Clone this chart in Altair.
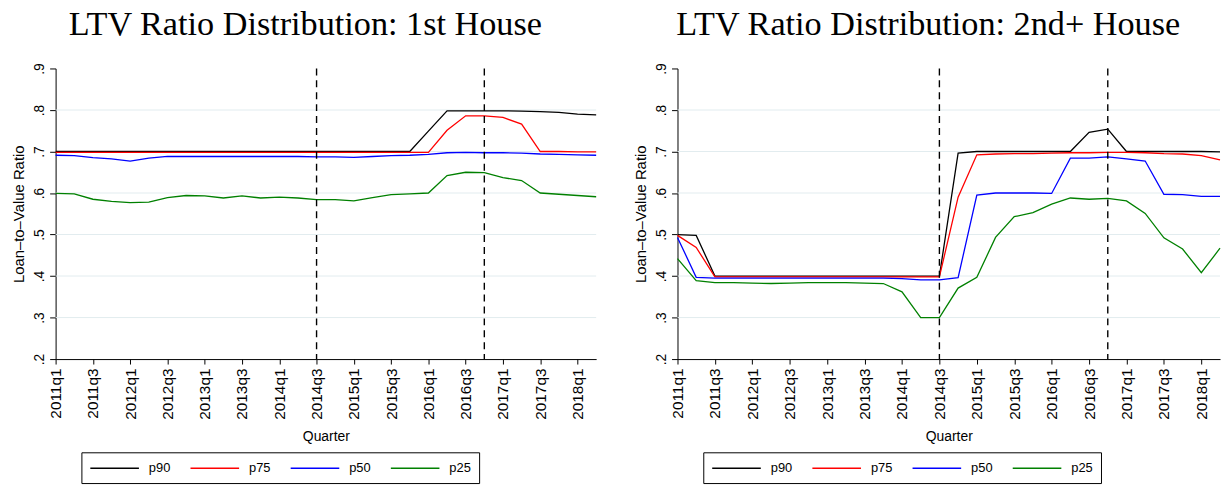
import altair as alt
import pandas as pd

quarters = [
    "2011q1", "2011q2", "2011q3", "2011q4", "2012q1", "2012q2", "2012q3", "2012q4",
    "2013q1", "2013q2", "2013q3", "2013q4", "2014q1", "2014q2", "2014q3", "2014q4",
    "2015q1", "2015q2", "2015q3", "2015q4", "2016q1", "2016q2", "2016q3", "2016q4",
    "2017q1", "2017q2", "2017q3", "2017q4", "2018q1", "2018q2",
]
x_tick_quarters = [
    "2011q1", "2011q3", "2012q1", "2012q3", "2013q1", "2013q3", "2014q1", "2014q3",
    "2015q1", "2015q3", "2016q1", "2016q3", "2017q1", "2017q3", "2018q1",
]
event_quarters = ["2014q3", "2016q4"]

# 1st House
p90_first = [0.700, 0.700, 0.700, 0.700, 0.700, 0.700, 0.700, 0.700, 0.700, 0.700,
             0.700, 0.700, 0.700, 0.700, 0.700, 0.700, 0.700, 0.700, 0.700, 0.700,
             0.749, 0.798, 0.798, 0.798, 0.798, 0.797, 0.796, 0.794, 0.790, 0.788]
p75_first = [0.698, 0.698, 0.698, 0.698, 0.698, 0.698, 0.698, 0.698, 0.698, 0.698,
             0.698, 0.698, 0.698, 0.698, 0.698, 0.698, 0.698, 0.698, 0.698, 0.698,
             0.698, 0.751, 0.786, 0.786, 0.782, 0.766, 0.700, 0.700, 0.699, 0.699]
p50_first = [0.691, 0.690, 0.685, 0.682, 0.677, 0.684, 0.688, 0.688, 0.688, 0.688,
             0.688, 0.688, 0.688, 0.688, 0.687, 0.687, 0.686, 0.688, 0.690, 0.691,
             0.693, 0.697, 0.698, 0.697, 0.697, 0.696, 0.694, 0.693, 0.692, 0.691]
p25_first = [0.599, 0.598, 0.585, 0.580, 0.577, 0.578, 0.589, 0.594, 0.593, 0.588,
             0.593, 0.588, 0.590, 0.588, 0.584, 0.584, 0.581, 0.589, 0.596, 0.598,
             0.600, 0.642, 0.650, 0.649, 0.637, 0.630, 0.600, 0.597, 0.594, 0.591]

# 2nd+ House
p90_second = [0.500, 0.498, 0.400, 0.400, 0.400, 0.400, 0.400, 0.400, 0.400, 0.400,
              0.400, 0.400, 0.400, 0.400, 0.400, 0.696, 0.700, 0.700, 0.700, 0.700,
              0.700, 0.700, 0.746, 0.754, 0.700, 0.700, 0.700, 0.700, 0.700, 0.699]
p75_second = [0.498, 0.469, 0.398, 0.398, 0.398, 0.398, 0.398, 0.398, 0.398, 0.398,
              0.398, 0.398, 0.398, 0.398, 0.398, 0.590, 0.692, 0.694, 0.695, 0.695,
              0.696, 0.697, 0.697, 0.698, 0.698, 0.697, 0.695, 0.694, 0.690, 0.680]
p50_second = [0.493, 0.397, 0.395, 0.395, 0.395, 0.395, 0.395, 0.395, 0.395, 0.395,
              0.395, 0.395, 0.394, 0.391, 0.391, 0.396, 0.595, 0.600, 0.600, 0.600,
              0.599, 0.684, 0.684, 0.687, 0.682, 0.677, 0.597, 0.596, 0.592, 0.592]
p25_second = [0.442, 0.389, 0.384, 0.384, 0.383, 0.382, 0.383, 0.384, 0.384, 0.384,
              0.383, 0.382, 0.362, 0.300, 0.300, 0.371, 0.397, 0.493, 0.543, 0.553,
              0.573, 0.588, 0.585, 0.587, 0.581, 0.551, 0.492, 0.465, 0.408, 0.467]

series_names = ["p90", "p75", "p50", "p25"]
series_colors = ["#000000", "#ff0000", "#0000ff", "#008000"]
y_ticks = [0.2, 0.3, 0.4, 0.5, 0.6, 0.7, 0.8, 0.9]
grid_values = [0.3, 0.4, 0.5, 0.6, 0.7, 0.8]

SANS = "Liberation Sans"


def y_axis():
    return alt.Axis(
        values=y_ticks,
        labelExpr="replace(format(datum.value, '.1f'), '0.', '.')",
        labelAngle=-90, labelAlign="center", labelBaseline="bottom",
        tickSize=6, labelPadding=3, labelFontSize=14, labelFont=SANS,
        labelColor="black", title="Loan–to–Value Ratio", titleFont=SANS,
        titleFontSize=15, titleFontWeight="normal", titleColor="black",
        titlePadding=4, minExtent=25, maxExtent=25, domainColor="black",
        tickColor="black", grid=False,
    )


def panel(title, series_lists, width):
    rows = []
    for name, vals in zip(series_names, series_lists):
        for q, v in zip(quarters, vals):
            rows.append({"quarter": q, "series": name, "value": v})
    df = pd.DataFrame(rows)

    xscale = alt.Scale(type="point", domain=quarters, padding=0)
    yscale = alt.Scale(domain=[0.2, 0.9], nice=False, zero=False)

    lines = alt.Chart(df).mark_line(strokeWidth=1.3).encode(
        x=alt.X(
            "quarter:O", scale=xscale, sort=quarters,
            axis=alt.Axis(
                values=x_tick_quarters, labelAngle=-90, labelAlign="right",
                labelBaseline="middle", tickSize=5, labelPadding=4,
                labelFontSize=15.5, labelFont=SANS, labelColor="black",
                title="Quarter", titleFont=SANS, titleFontSize=14,
                titleFontWeight="normal", titleColor="black", titlePadding=9,
                minExtent=62, maxExtent=62, domainColor="black",
                tickColor="black", grid=False,
            ),
        ),
        y=alt.Y("value:Q", scale=yscale, axis=y_axis()),
        color=alt.Color(
            "series:N",
            scale=alt.Scale(domain=series_names, range=series_colors),
            legend=alt.Legend(
                title=None, orient="none", legendX=26, legendY=387,
                direction="horizontal", columns=4, symbolType="M-1,0H6",
                symbolSize=196, symbolStrokeWidth=1.5, labelFontSize=13,
                labelFont=SANS, labelColor="black", labelOffset=44,
                columnPadding=17, padding=8, strokeColor="black",
                fillColor="white", labelLimit=0,
            ),
        ),
    )

    grid = alt.Chart(pd.DataFrame({"g": grid_values})).mark_rule(
        color="#e2ecef", strokeWidth=1
    ).encode(y=alt.Y("g:Q", scale=yscale, axis=y_axis()))

    vlines = alt.Chart(pd.DataFrame({"quarter": event_quarters})).mark_rule(
        color="black", strokeWidth=1.4, strokeDash=[7, 5]
    ).encode(x=alt.X("quarter:O", scale=xscale))

    return alt.layer(grid, lines, vlines).properties(
        width=width, height=293,
        title=alt.TitleParams(
            text=title, font="Liberation Serif", fontSize=34.5,
            fontWeight="normal", anchor="middle", frame="bounds",
            baseline="alphabetic", offset=-7, color="black",
        ),
    )


left = panel("LTV Ratio Distribution: 1st House",
             [p90_first, p75_first, p50_first, p25_first], 545)
right = panel("LTV Ratio Distribution: 2nd+ House",
              [p90_second, p75_second, p50_second, p25_second], 547)

chart = alt.hconcat(left, right, spacing=35).resolve_scale(
    color="independent"
).resolve_legend(color="independent").properties(
    padding={"left": 4, "top": -3, "right": 0, "bottom": 0},
    background="white",
).configure_view(stroke=None)

chart.save("out.html", embed_options={"renderer": "svg", "actions": False})
